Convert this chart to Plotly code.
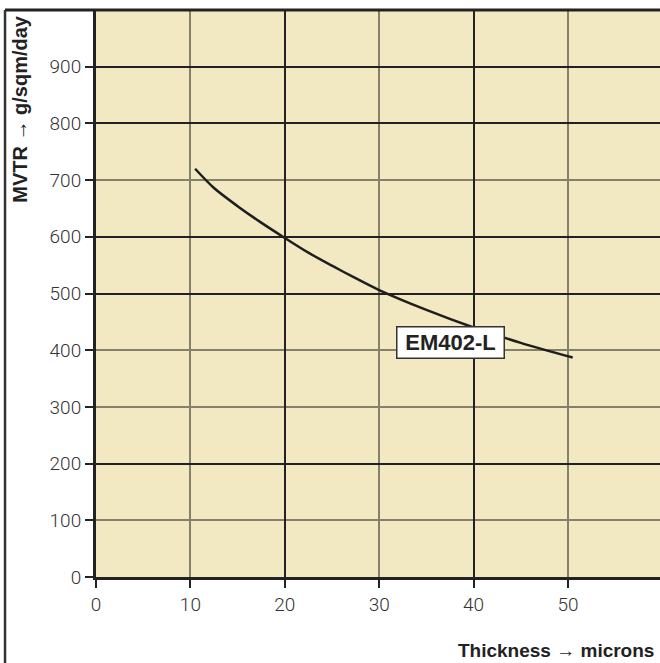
import plotly.graph_objects as go

# Data
thickness = [10.5, 12.5, 15, 17.5, 20, 22.5, 25, 27.5, 30, 35, 40, 45, 50.5]
mvtr = [720, 686, 654, 625, 598, 572, 549, 527, 506, 471, 440, 413, 387]
series_name = "EM402-L"
label_pos = (37.6, 414)

x_ticks = [0, 10, 20, 30, 40, 50]
y_ticks = [0, 100, 200, 300, 400, 500, 600, 700, 800, 900]
x_grid_dark = [20, 40]
x_grid_grey = [10, 30, 50]
y_grid_dark = [200, 500, 600, 800, 900]
y_grid_grey = [100, 300, 400, 700]

x_range = [0, 59.75]
y_range = [0, 1000]

BG = "#f2e8c1"
DARK = "#222222"
GREY = "#858069"
tick_font = dict(family="Roboto", size=19, color="#333333", weight=300)

fig = go.Figure()

# invisible copies so the overlay (grid) axes are drawn
for xa, ya in (("x2", "y2"), ("x3", "y3")):
    fig.add_trace(go.Scatter(x=thickness, y=mvtr, xaxis=xa, yaxis=ya, mode="lines",
                             line=dict(width=0), opacity=0,
                             showlegend=False, hoverinfo="skip"))

fig.add_trace(go.Scatter(
    x=thickness, y=mvtr, mode="lines", name=series_name,
    line=dict(color="#1e1e1e", width=2.5, shape="spline", smoothing=0.8),
    showlegend=False, xaxis="x", yaxis="y"))

fig.update_layout(
    width=660, height=663,
    margin=dict(l=96, r=0, t=10, b=86),
    paper_bgcolor="white",
    plot_bgcolor=BG,
    xaxis=dict(range=x_range, tickvals=x_ticks, showgrid=False, zeroline=False,
               showline=True, linecolor=DARK, linewidth=3,
               ticks="outside", ticklen=8, tickwidth=1.5, tickcolor=DARK,
               tickfont=tick_font),
    yaxis=dict(range=y_range, tickvals=y_ticks, showgrid=False, zeroline=False,
               showline=True, linecolor=DARK, linewidth=3,
               ticks="outside", ticklen=8, tickwidth=1.5, tickcolor=DARK,
               tickfont=tick_font),
    xaxis2=dict(range=x_range, overlaying="x", tickvals=x_grid_grey, showgrid=True,
                gridcolor=GREY, gridwidth=2, showticklabels=False, ticks="",
                zeroline=False, showline=False),
    yaxis2=dict(range=y_range, overlaying="y", tickvals=y_grid_grey, showgrid=True,
                gridcolor=GREY, gridwidth=2, showticklabels=False, ticks="",
                zeroline=False, showline=False),
    xaxis3=dict(range=x_range, overlaying="x", tickvals=x_grid_dark, showgrid=True,
                gridcolor=DARK, gridwidth=1.5, showticklabels=False, ticks="",
                zeroline=False, showline=False),
    yaxis3=dict(range=y_range, overlaying="y", tickvals=y_grid_dark, showgrid=True,
                gridcolor=DARK, gridwidth=1.5, showticklabels=False, ticks="",
                zeroline=False, showline=False),
)

# outer frame (top and left)
fig.add_shape(type="line", xref="paper", yref="paper", x0=-0.1613, x1=1, y0=1, y1=1,
              line=dict(color=DARK, width=3))
fig.add_shape(type="line", xref="paper", yref="paper", x0=-0.1613, x1=-0.1613, y0=1, y1=-0.16,
              line=dict(color="#333333", width=2.5))

# axis titles
fig.add_annotation(text="MVTR \u2192 g/sqm/day", xref="paper", yref="paper",
                   x=-0.135, y=0.995, xanchor="center", yanchor="top", textangle=-90,
                   showarrow=False,
                   font=dict(family="Liberation Sans", size=20, color=DARK, weight="bold"))
fig.add_annotation(text="Thickness \u2192 microns", xref="paper", yref="paper",
                   x=0.993, y=-0.129, xanchor="right", yanchor="middle",
                   showarrow=False,
                   font=dict(family="Liberation Sans", size=19, color=DARK, weight="bold"))

# series label
fig.add_annotation(text=series_name, x=label_pos[0], y=label_pos[1], xref="x", yref="y",
                   showarrow=False, bgcolor="white", bordercolor="#333333", borderwidth=1.5,
                   width=104, height=28,
                   font=dict(family="Liberation Sans", size=22, color=DARK, weight="bold"))

fig.write_html("out.html", config={"displayModeBar": False},
               post_script="document.body.style.margin='0px';")
